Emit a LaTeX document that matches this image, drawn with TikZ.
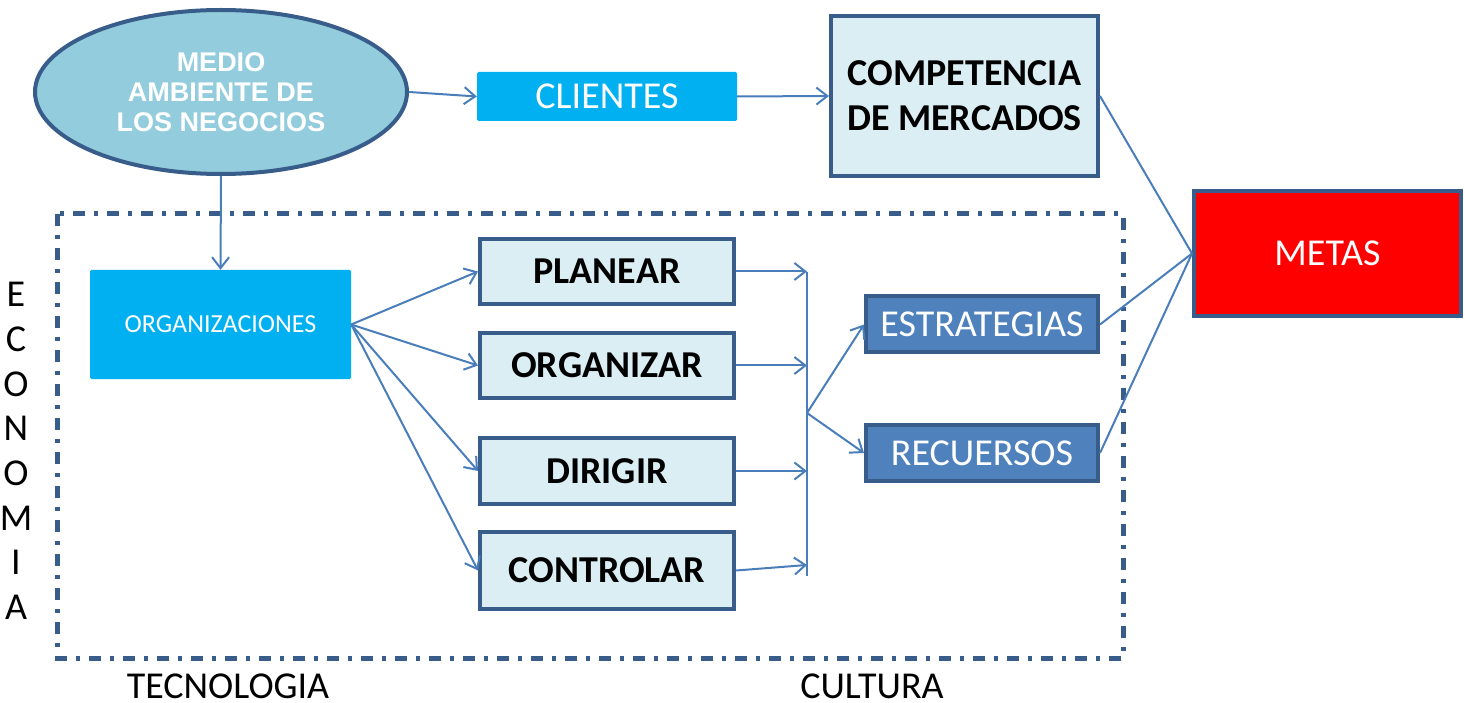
\documentclass[tikz,border=0pt]{standalone}
\usepackage{fontspec}
\setmainfont{Carlito}
\newfontfamily\arialfont{Liberation Sans}
\usetikzlibrary{arrows.meta,shapes.geometric}

\definecolor{bordeazul}{HTML}{385D8A}
\definecolor{azulflecha}{HTML}{4A7EBB}
\definecolor{celeste}{HTML}{DBEEF4}
\definecolor{cian}{HTML}{00B0F0}
\definecolor{elipseazul}{HTML}{93CDDD}
\definecolor{azulmedio}{HTML}{4F81BD}

\tikzset{
	caja/.style={draw=bordeazul, line width=4pt, fill=celeste, inner sep=0pt,
		font=\fontsize{38}{42}\selectfont\bfseries},
	cajacian/.style={fill=cian, text=white, inner sep=0pt, rounded corners=1.5pt},
	cajaazul/.style={draw=bordeazul, line width=4pt, fill=azulmedio, text=white, inner sep=0pt,
		minimum width=232pt, minimum height=56pt, font=\fontsize{38}{42}\selectfont},
	flecha/.style={draw=azulflecha, line width=2pt, -{Straight Barb[length=11pt,width=17pt]}},
	linea/.style={draw=azulflecha, line width=2pt},
	rotulo/.style={inner sep=0pt, font=\fontsize{38}{44.7}\selectfont}
}

\begin{document}
\begin{tikzpicture}[x=1pt, y=-1pt]
			%%%%% MARGENES %%%%%
			\useasboundingbox (0, 0) rectangle (1465, 703);
			
			%%%%% MARCO %%%%%
			\draw[bordeazul, line width=5pt, dash pattern=on 12pt off 9pt on 4pt off 9pt] (57, 214) rectangle (1123, 658);
			
			%%%%% NODOS %%%%%
			\node[ellipse, draw=bordeazul, line width=4pt, fill=elipseazul, minimum width=372pt, minimum height=164pt,
				inner sep=0pt, text=white, align=center, font=\arialfont\fontsize{27}{30}\selectfont\bfseries]
				(medio) at (221, 92) {MEDIO\\AMBIENTE DE\\LOS NEGOCIOS};
			\node[cajacian, minimum width=260pt, minimum height=49pt, font=\fontsize{38}{42}\selectfont] (clientes) at (607, 96.5) {CLIENTES};
			\node[caja, minimum width=267pt, minimum height=160pt, align=center, font=\fontsize{38}{45}\selectfont\bfseries]
				(competencia) at (964.5, 96) {COMPETENCIA\\DE MERCADOS};
			\node[draw=bordeazul, line width=4pt, fill=red, text=white, inner sep=0pt, minimum width=267pt, minimum height=125pt,
				font=\fontsize{38}{42}\selectfont] (metas) at (1327.5, 253.5) {METAS};
			
			\node[cajacian, minimum width=261pt, minimum height=109pt, font=\fontsize{26}{30}\selectfont] (organizaciones) at (220.5, 324.5) {ORGANIZACIONES};
			
			\node[caja, minimum width=254pt, minimum height=65pt] (planear) at (607, 271.5) {PLANEAR};
			\node[caja, minimum width=254pt, minimum height=65pt] (organizar) at (607, 365.5) {ORGANIZAR};
			\node[caja, minimum width=254pt, minimum height=66pt] (dirigir) at (607, 471) {DIRIGIR};
			\node[caja, minimum width=254pt, minimum height=77pt] (controlar) at (607, 570.5) {CONTROLAR};
			
			\node[cajaazul] (estrategias) at (982, 324.5) {ESTRATEGIAS};
			\node[cajaazul] (recuersos) at (982, 453) {RECUERSOS};
			
			%%%%% TEXTOS %%%%%
			\node[rotulo, align=center] (economia) at (16, 451) {E\\C\\O\\N\\O\\M\\I\\A};
			\node[rotulo] (tecnologia) at (228, 686) {TECNOLOGIA};
			\node[rotulo] (cultura) at (872, 686) {CULTURA};
			
			%%%%% BARRA %%%%%
			\coordinate (barrasup) at (807, 272);
			\coordinate (barrainf) at (807, 576);
			\coordinate (barramed) at (807, 413);
			\coordinate (barractl) at (807, 565);
			\draw[linea] (barrasup) -- (barrainf);
			
			%%%%% FLECHAS %%%%%
			\draw[flecha] (medio.east) -- (clientes.west);
			\draw[flecha] (clientes.east) -- (competencia.west);
			\draw[flecha] (medio.south) -- (organizaciones.north);
			
			\draw[flecha] (organizaciones.east) -- (planear.west);
			\draw[flecha] (organizaciones.east) -- (organizar.west);
			\draw[flecha] (organizaciones.east) -- (dirigir.west);
			\draw[flecha] (organizaciones.east) -- (controlar.west);
			
			\draw[flecha] (planear.east) -- (planear.east -| barrasup);
			\draw[flecha] (organizar.east) -- (organizar.east -| barrasup);
			\draw[flecha] (dirigir.east) -- (dirigir.east -| barrasup);
			\draw[flecha] (controlar.east) -- (barractl);
			
			\draw[flecha] (barramed) -- (estrategias.west);
			\draw[flecha] (barramed) -- (recuersos.west);
			
			\draw[linea] (competencia.east) -- (metas.west);
			\draw[linea] (estrategias.east) -- (metas.west);
			\draw[linea] (recuersos.east) -- (metas.west);
			
		\end{tikzpicture}
\end{document}
